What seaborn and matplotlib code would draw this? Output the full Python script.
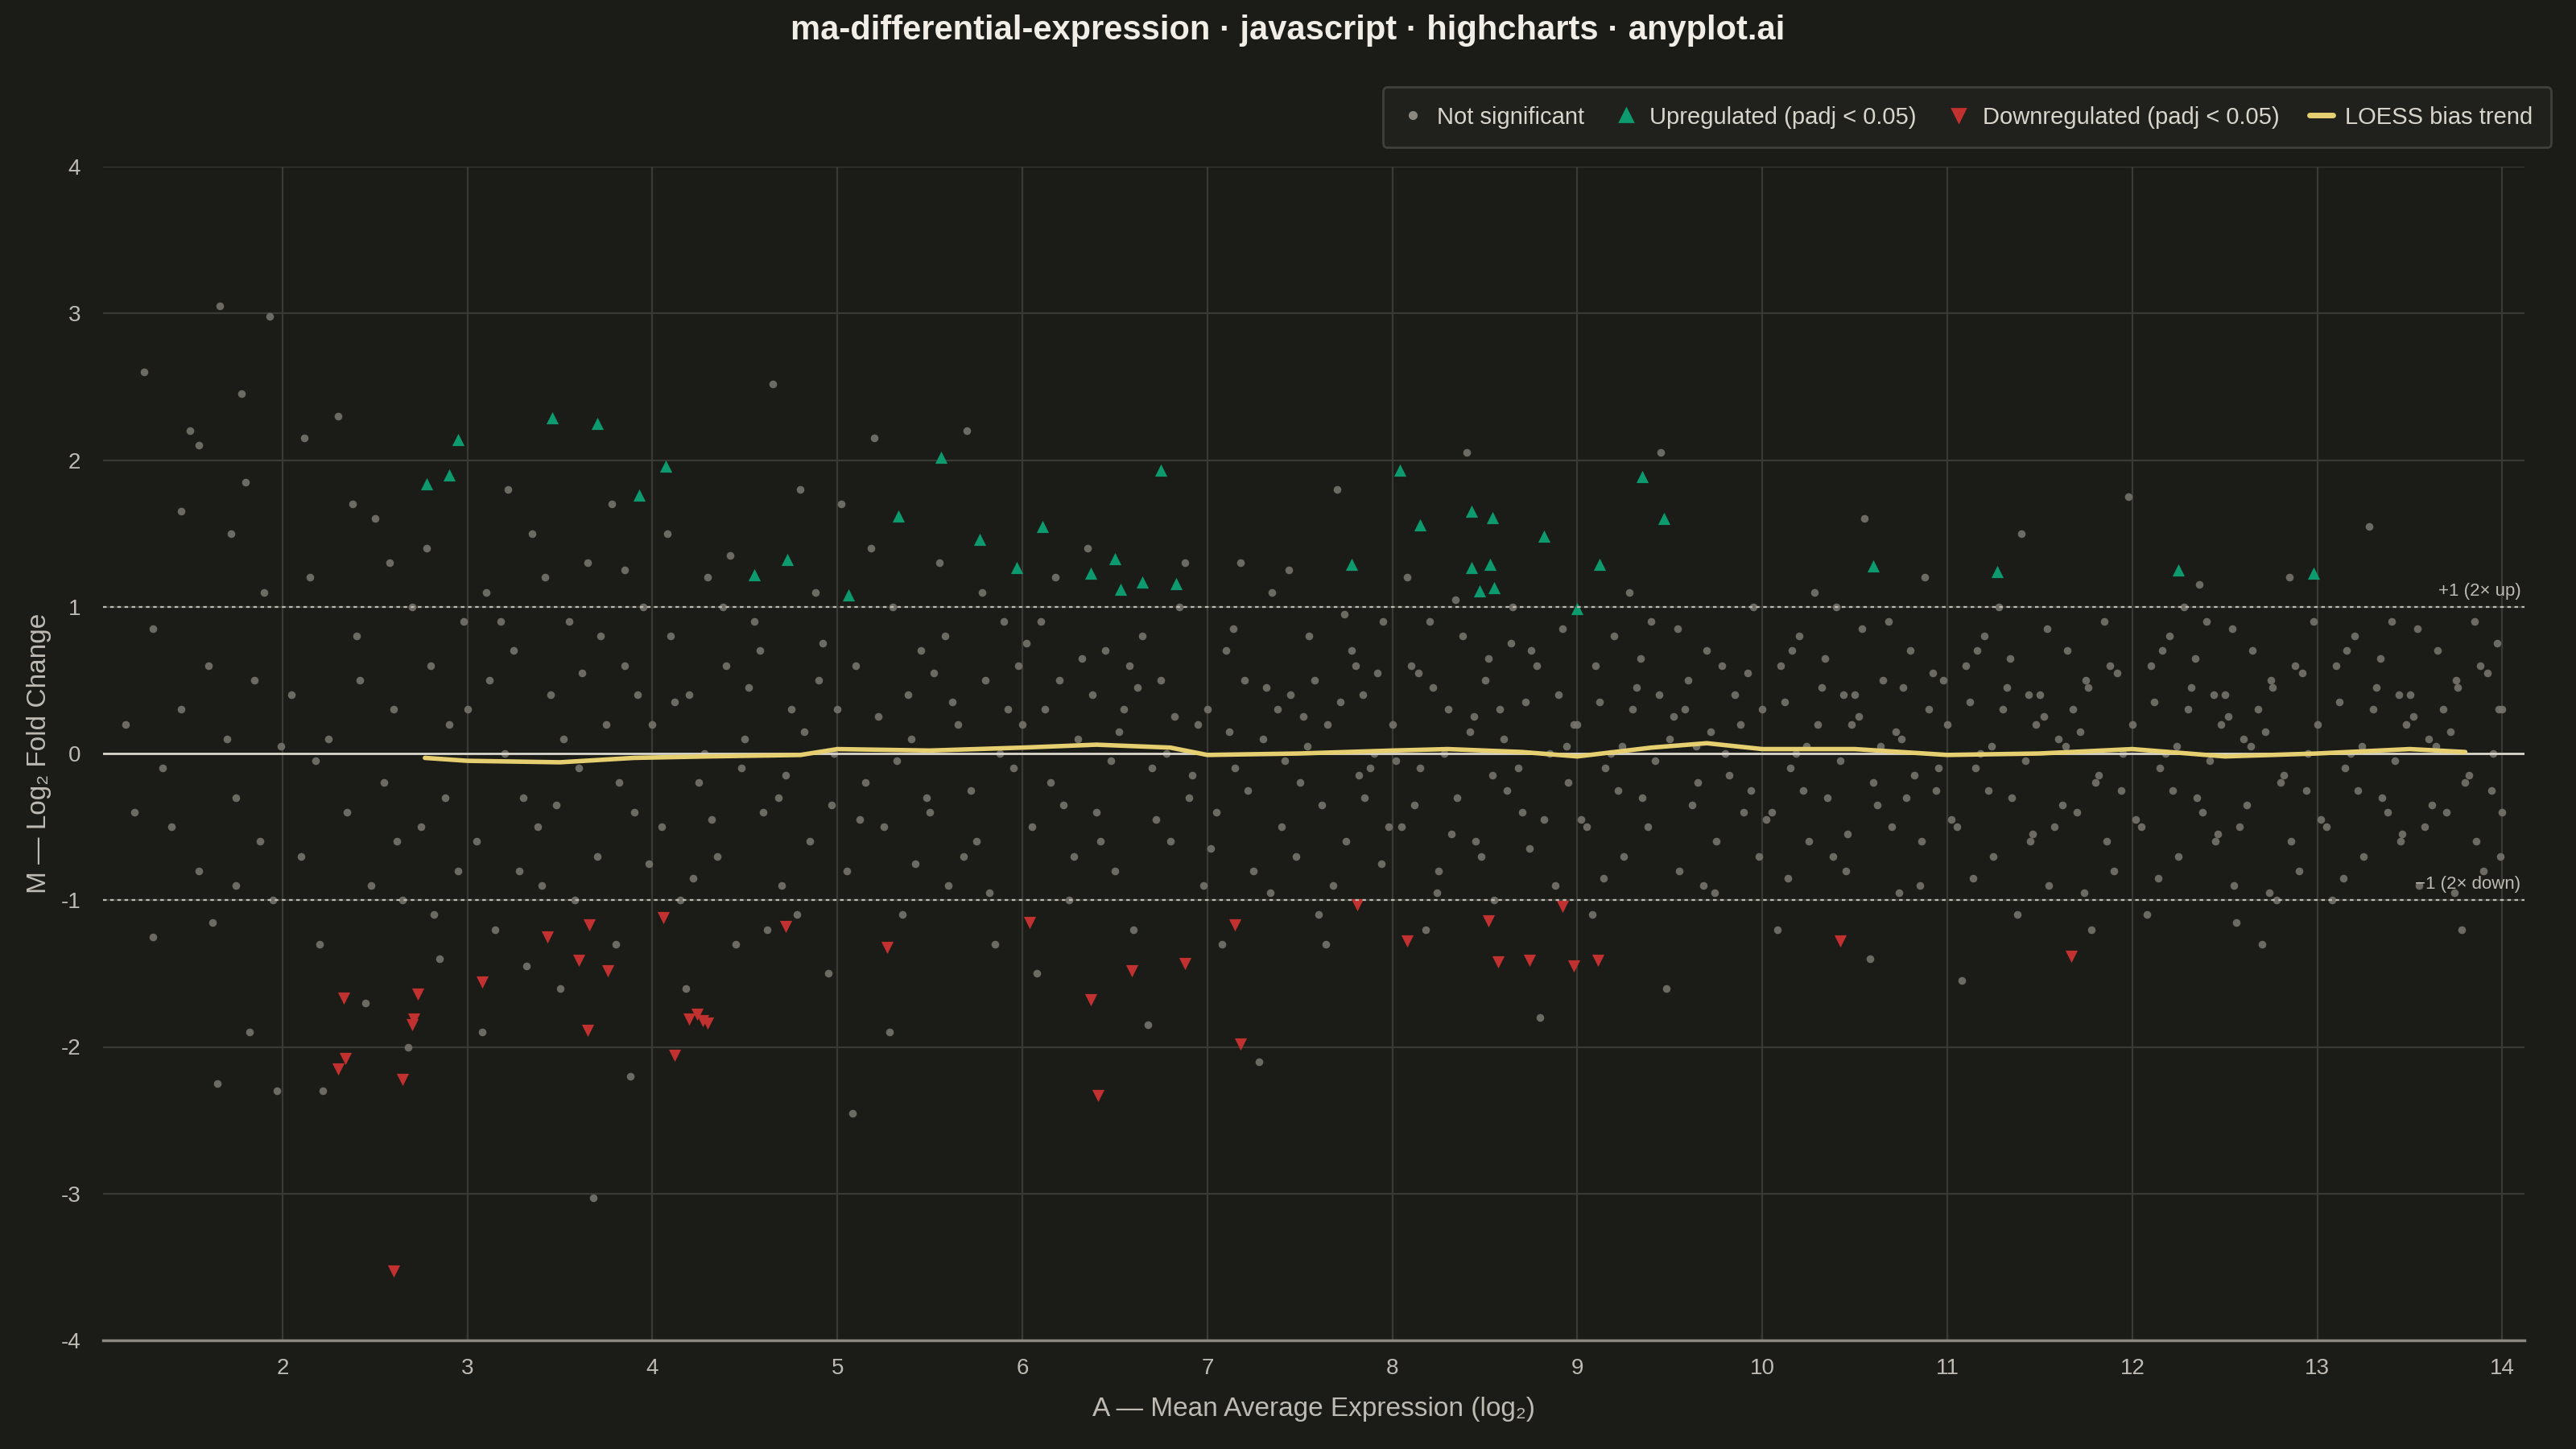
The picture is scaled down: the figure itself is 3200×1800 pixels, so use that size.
import numpy as np
import pandas as pd
import seaborn as sns
from matplotlib import pyplot as plt
from matplotlib.lines import Line2D

BG = '#1b1b17'
sns.set_theme(style='dark')
plt.rcParams['font.family'] = ['Liberation Sans', 'DejaVu Sans']
plt.rcParams['axes.unicode_minus'] = False

# non-significant genes (A, M), read off the reference by region
ns = [
    (1.15, 0.2), (1.2, -0.4), (1.3, 0.85), (1.35, -0.1), (1.4, -0.5), (1.45, 0.3), (1.5, 2.2), (1.55, -0.8),
    (1.6, 0.6), (1.62, -1.15), (1.66, 3.05), (1.7, 0.1), (1.72, 1.5), (1.75, -0.3), (1.78, 2.45), (1.82, -1.9),
    (1.85, 0.5), (1.88, -0.6), (1.9, 1.1), (1.93, 2.98), (1.97, -2.3), (1.99, 0.05), (1.3, -1.25), (1.45, 1.65),
    (1.55, 2.1), (1.65, -2.25), (1.8, 1.85), (1.95, -1.0), (1.25, 2.6), (1.75, -0.9),
    (2.05, 0.4), (2.1, -0.7), (2.15, 1.2), (2.2, -1.3), (2.25, 0.1), (2.3, 2.3), (2.35, -0.4), (2.4, 0.8),
    (2.45, -1.7), (2.5, 1.6), (2.55, -0.2), (2.6, 0.3), (2.65, -1.0), (2.7, 1.0), (2.75, -0.5), (2.8, 0.6),
    (2.85, -1.4), (2.9, 0.2), (2.95, -0.8), (2.12, 2.15), (2.22, -2.3), (2.38, 1.7), (2.48, -0.9), (2.58, 1.3),
    (2.68, -2.0), (2.78, 1.4), (2.88, -0.3), (2.98, 0.9), (2.18, -0.05), (2.42, 0.5), (2.62, -0.6), (2.82, -1.1),
    (3.0, 0.3), (3.05, -0.6), (3.1, 1.1), (3.15, -1.2), (3.2, 0.0), (3.25, 0.7), (3.3, -0.3), (3.35, 1.5),
    (3.4, -0.9), (3.45, 0.4), (3.5, -1.6), (3.55, 0.9), (3.6, -0.1), (3.65, 1.3), (3.7, -0.7), (3.75, 0.2),
    (3.8, -1.3), (3.85, 0.6), (3.9, -0.4), (3.95, 1.0), (3.08, -1.9), (3.22, 1.8), (3.38, -0.5), (3.52, 0.1),
    (3.68, -3.03), (3.78, 1.7), (3.88, -2.2), (3.12, 0.5), (3.28, -0.8), (3.42, 1.2), (3.58, -1.0), (3.72, 0.8),
    (3.82, -0.2), (3.92, 0.4), (3.18, 0.9), (3.48, -0.35), (3.62, 0.55), (3.98, -0.75), (3.32, -1.45), (3.85, 1.25),
    (4.0, 0.2), (4.05, -0.5), (4.1, 0.8), (4.15, -1.0), (4.2, 0.4), (4.25, -0.2), (4.3, 1.2), (4.35, -0.7),
    (4.4, 0.6), (4.45, -1.3), (4.5, 0.1), (4.55, 0.9), (4.6, -0.4), (4.65, 2.52), (4.7, -0.9), (4.75, 0.3),
    (4.8, 1.8), (4.85, -0.6), (4.9, 0.5), (4.95, -1.5), (4.08, 1.5), (4.18, -1.6), (4.28, 0.0), (4.38, 1.0),
    (4.48, -0.1), (4.58, 0.7), (4.68, -0.3), (4.78, -1.1), (4.88, 1.1), (4.98, 0.0), (4.12, 0.35), (4.32, -0.45),
    (4.52, 0.45), (4.72, -0.15), (4.92, 0.75), (4.22, -0.85), (4.42, 1.35), (4.62, -1.2), (4.82, 0.15), (4.97, -0.35),
    (5.0, 0.3), (5.05, -0.8), (5.1, 0.6), (5.15, -0.2), (5.2, 2.15), (5.25, -0.5), (5.3, 1.0), (5.35, -1.1),
    (5.4, 0.1), (5.45, 0.7), (5.5, -0.4), (5.55, 1.3), (5.6, -0.9), (5.65, 0.2), (5.7, 2.2), (5.75, -0.6),
    (5.8, 0.5), (5.85, -1.3), (5.9, 0.9), (5.95, -0.1), (5.08, -2.45), (5.18, 1.4), (5.28, -1.9), (5.38, 0.4),
    (5.48, -0.3), (5.58, 0.8), (5.68, -0.7), (5.78, 1.1), (5.88, 0.0), (5.98, 0.6), (5.12, -0.45), (5.22, 0.25),
    (5.32, -0.05), (5.42, -0.75), (5.52, 0.55), (5.62, 0.35), (5.72, -0.25), (5.82, -0.95), (5.92, 0.3), (5.02, 1.7),
    (6.0, 0.2), (6.05, -0.5), (6.1, 0.9), (6.15, -0.2), (6.2, 0.5), (6.25, -1.0), (6.3, 0.1), (6.35, 1.4),
    (6.4, -0.4), (6.45, 0.7), (6.5, -0.8), (6.55, 0.3), (6.6, -1.2), (6.65, 0.8), (6.7, -0.1), (6.75, 0.5),
    (6.8, -0.6), (6.85, 1.0), (6.9, -0.3), (6.95, 0.2), (6.08, -1.5), (6.18, 1.2), (6.28, -0.7), (6.38, 0.4),
    (6.48, -0.05), (6.58, 0.6), (6.68, -1.85), (6.78, 0.0), (6.88, 1.3), (6.98, -0.9), (6.12, 0.3), (6.22, -0.35),
    (6.32, 0.65), (6.42, -0.6), (6.52, 0.15), (6.62, 0.45), (6.72, -0.45), (6.82, 0.25), (6.92, -0.15), (6.02, 0.75),
    (7.0, 0.3), (7.05, -0.4), (7.1, 0.7), (7.15, -0.1), (7.2, 0.5), (7.25, -0.8), (7.3, 0.1), (7.35, 1.1),
    (7.4, -0.5), (7.45, 0.4), (7.5, -0.2), (7.55, 0.8), (7.6, -1.1), (7.65, 0.2), (7.7, 1.8), (7.75, -0.6),
    (7.8, 0.6), (7.85, -0.3), (7.9, 0.0), (7.95, 0.9), (7.08, -1.3), (7.18, 1.3), (7.28, -2.1), (7.38, 0.3),
    (7.48, -0.7), (7.58, 0.5), (7.68, -0.9), (7.78, 0.7), (7.88, -0.1), (7.98, -0.5), (7.12, 0.15), (7.22, -0.25),
    (7.32, 0.45), (7.42, -0.05), (7.52, 0.25), (7.62, -0.35), (7.72, 0.35), (7.82, -0.15), (7.92, 0.55), (7.02, -0.65),
    (7.14, 0.85), (7.34, -0.95), (7.54, 0.05), (7.74, 0.95), (7.94, -0.75), (7.44, 1.25), (7.64, -1.3), (7.84, 0.4),
    (8.0, 0.2), (8.05, -0.5), (8.1, 0.6), (8.15, -0.1), (8.2, 0.9), (8.25, -0.8), (8.3, 0.3), (8.35, -0.3),
    (8.4, 2.05), (8.45, -0.6), (8.5, 0.5), (8.55, -1.0), (8.6, 0.1), (8.65, 1.0), (8.7, -0.4), (8.75, 0.7),
    (8.8, -1.8), (8.85, 0.0), (8.9, 0.4), (8.95, -0.2), (8.08, 1.2), (8.18, -1.2), (8.28, 0.0), (8.38, 0.8),
    (8.48, -0.7), (8.58, 0.3), (8.68, -0.1), (8.78, 0.6), (8.88, -0.9), (8.98, 0.2), (8.12, -0.35), (8.22, 0.45),
    (8.32, -0.55), (8.42, 0.15), (8.52, 0.65), (8.62, -0.25), (8.72, 0.35), (8.82, -0.45), (8.92, 0.85), (8.02, -0.05),
    (8.14, 0.55), (8.34, 1.05), (8.54, -0.15), (8.74, -0.65), (8.94, 0.05), (8.24, -0.95), (8.44, 0.25), (8.64, 0.75),
    (9.0, 0.2), (9.05, -0.5), (9.1, 0.6), (9.15, -0.1), (9.2, 0.8), (9.25, -0.7), (9.3, 0.3), (9.35, -0.3),
    (9.4, 0.9), (9.45, 2.05), (9.5, 0.1), (9.55, -0.8), (9.6, 0.5), (9.65, -0.2), (9.7, 0.7), (9.75, -0.6),
    (9.8, 0.0), (9.85, 0.4), (9.9, -0.4), (9.95, 1.0), (9.08, -1.1), (9.18, 0.0), (9.28, 1.1), (9.38, -0.5),
    (9.48, -1.6), (9.58, 0.3), (9.68, -0.9), (9.78, 0.6), (9.88, 0.2), (9.98, -0.7), (9.12, 0.35), (9.22, -0.25),
    (9.32, 0.45), (9.42, -0.05), (9.52, 0.25), (9.62, -0.35), (9.72, 0.15), (9.82, -0.15), (9.92, 0.55), (9.02, -0.45),
    (9.14, -0.85), (9.34, 0.65), (9.54, 0.85), (9.74, -0.95), (9.94, -0.25), (9.24, 0.05), (9.44, 0.4), (9.64, 0.05),
    (10.0, 0.3), (10.05, -0.4), (10.1, 0.6), (10.15, -0.1), (10.2, 0.8), (10.25, -0.6), (10.3, 0.2), (10.35, -0.3),
    (10.4, 1.0), (10.45, -0.8), (10.5, 0.4), (10.55, 1.6), (10.6, -0.2), (10.65, 0.5), (10.7, -0.5), (10.75, 0.1),
    (10.8, 0.7), (10.85, -0.9), (10.9, 0.3), (10.95, -0.1), (10.08, -1.2), (10.18, 0.0), (10.28, 1.1), (10.38, -0.7),
    (10.48, 0.2), (10.58, -1.4), (10.68, 0.9), (10.78, -0.3), (10.88, 1.2), (10.98, 0.5), (10.12, 0.35), (10.22, -0.25),
    (10.32, 0.45), (10.42, -0.05), (10.52, 0.25), (10.62, -0.35), (10.72, 0.15), (10.82, -0.15), (10.92, 0.55), (10.02, -0.45),
    (10.14, -0.85), (10.34, 0.65), (10.54, 0.85), (10.74, -0.95), (10.94, -0.25), (10.24, 0.05), (10.44, 0.4), (10.64, 0.05),
    (10.16, 0.7), (10.46, -0.55), (10.76, 0.45), (10.86, -0.6),
    (11.0, 0.2), (11.05, -0.5), (11.1, 0.6), (11.15, -0.1), (11.2, 0.8), (11.25, -0.7), (11.3, 0.3), (11.35, -0.3),
    (11.4, 1.5), (11.45, -0.6), (11.5, 0.4), (11.55, -0.9), (11.6, 0.1), (11.65, 0.7), (11.7, -0.4), (11.75, 0.5),
    (11.8, -0.2), (11.85, 0.9), (11.9, -0.8), (11.95, 0.0), (11.08, -1.55), (11.18, 0.0), (11.28, 1.0), (11.38, -1.1),
    (11.48, 0.2), (11.58, -0.5), (11.68, 0.3), (11.78, -1.2), (11.88, 0.6), (11.98, 1.75), (11.12, 0.35), (11.22, -0.25),
    (11.32, 0.45), (11.42, -0.05), (11.52, 0.25), (11.62, -0.35), (11.72, 0.15), (11.82, -0.15), (11.92, 0.55), (11.02, -0.45),
    (11.14, -0.85), (11.34, 0.65), (11.54, 0.85), (11.74, -0.95), (11.94, -0.25), (11.24, 0.05), (11.44, 0.4), (11.64, 0.05),
    (11.16, 0.7), (11.46, -0.55), (11.76, 0.45), (11.86, -0.6),
    (12.0, 0.2), (12.05, -0.5), (12.1, 0.6), (12.15, -0.1), (12.2, 0.8), (12.25, -0.7), (12.3, 0.3), (12.35, -0.3),
    (12.4, 0.9), (12.45, -0.6), (12.5, 0.4), (12.55, -0.9), (12.6, 0.1), (12.65, 0.7), (12.7, -1.3), (12.75, 0.5),
    (12.8, -0.2), (12.85, 1.2), (12.9, -0.8), (12.95, 0.0), (12.08, -1.1), (12.18, 0.0), (12.28, 1.0), (12.38, -0.4),
    (12.48, 0.2), (12.58, -0.5), (12.68, 0.3), (12.78, -1.0), (12.88, 0.6), (12.98, 0.9), (12.12, 0.35), (12.22, -0.25),
    (12.32, 0.45), (12.42, -0.05), (12.52, 0.25), (12.62, -0.35), (12.72, 0.15), (12.82, -0.15), (12.92, 0.55), (12.02, -0.45),
    (12.14, -0.85), (12.34, 0.65), (12.54, 0.85), (12.74, -0.95), (12.94, -0.25), (12.24, 0.05), (12.44, 0.4), (12.64, 0.05),
    (12.16, 0.7), (12.46, -0.55), (12.76, 0.45), (12.86, -0.6), (12.36, 1.15), (12.56, -1.15),
    (13.0, 0.2), (13.05, -0.5), (13.1, 0.6), (13.15, -0.1), (13.2, 0.8), (13.25, -0.7), (13.3, 0.3), (13.35, -0.3),
    (13.4, 0.9), (13.45, -0.6), (13.5, 0.4), (13.55, -0.9), (13.6, 0.1), (13.65, 0.7), (13.7, -0.4), (13.75, 0.5),
    (13.8, -0.2), (13.85, 0.9), (13.9, -0.8), (13.95, 0.0), (13.08, -1.0), (13.18, 0.0), (13.28, 1.55), (13.38, -0.4),
    (13.48, 0.2), (13.58, -0.5), (13.68, 0.3), (13.78, -1.2), (13.88, 0.6), (13.98, 0.3), (13.12, 0.35), (13.22, -0.25),
    (13.32, 0.45), (13.42, -0.05), (13.52, 0.25), (13.62, -0.35), (13.72, 0.15), (13.82, -0.15), (13.92, 0.55), (13.02, -0.45),
    (13.14, -0.85), (13.34, 0.65), (13.54, 0.85), (13.74, -0.95), (13.94, -0.25), (13.24, 0.05), (13.44, 0.4), (13.64, 0.05),
    (13.16, 0.7), (13.46, -0.55), (13.76, 0.45), (13.86, -0.6), (14.0, 0.3), (14.0, -0.4), (13.97, 0.75), (13.99, -0.7),
]

up = [
    (2.78, 1.84), (2.9, 1.9), (2.95, 2.14), (3.46, 2.29), (3.7, 2.25), (3.93, 1.76), (4.07, 1.96), (4.55, 1.22),
    (4.73, 1.32), (5.06, 1.08), (5.33, 1.62), (5.56, 2.02), (5.77, 1.46), (5.97, 1.27), (6.11, 1.55), (6.37, 1.23),
    (6.5, 1.33), (6.53, 1.12), (6.65, 1.17), (6.75, 1.93), (6.83, 1.16), (7.78, 1.29), (8.04, 1.93), (8.15, 1.56),
    (8.43, 1.65), (8.43, 1.27), (8.47, 1.11), (8.53, 1.29), (8.54, 1.61), (8.55, 1.13), (8.82, 1.48), (9.0, 0.99),
    (9.12, 1.29), (9.35, 1.89), (9.47, 1.6), (10.6, 1.28), (11.27, 1.24), (12.25, 1.25), (12.98, 1.23),
]
down = [
    (2.3, -2.15), (2.33, -1.67), (2.34, -2.08), (2.65, -2.22), (2.6, -3.53), (2.7, -1.85), (2.71, -1.81), (2.73, -1.64),
    (3.08, -1.56), (3.43, -1.25), (3.6, -1.41), (3.65, -1.89), (3.66, -1.17), (3.76, -1.48), (4.06, -1.12), (4.12, -2.06),
    (4.2, -1.81), (4.24, -1.78), (4.27, -1.82), (4.3, -1.84), (4.72, -1.18), (5.27, -1.32), (6.04, -1.15), (6.37, -1.68),
    (6.41, -2.33), (6.59, -1.48), (6.88, -1.43), (7.15, -1.17), (7.18, -1.98), (7.81, -1.03), (8.08, -1.28), (8.52, -1.14),
    (8.57, -1.42), (8.74, -1.41), (8.92, -1.04), (8.98, -1.45), (9.11, -1.41), (10.42, -1.28), (11.67, -1.38),
]
loess = {
    'A': [2.77, 3.0, 3.5, 3.9, 4.3, 4.8, 5.0, 5.5, 6.0, 6.4, 6.8, 7.0, 7.5, 8.0, 8.3, 8.7, 9.0, 9.4, 9.7,
          10.0, 10.5, 11.0, 11.5, 12.0, 12.5, 13.0, 13.5, 13.8],
    'M': [-0.03, -0.05, -0.06, -0.03, -0.02, -0.01, 0.03, 0.02, 0.04, 0.06, 0.04, -0.01, 0.0, 0.02, 0.03,
          0.01, -0.02, 0.04, 0.07, 0.03, 0.03, -0.01, 0.0, 0.03, -0.02, 0.0, 0.03, 0.01],
}

df_ns = pd.DataFrame(ns, columns=['A', 'M'])
df_up = pd.DataFrame(up, columns=['A', 'M'])
df_down = pd.DataFrame(down, columns=['A', 'M'])

fig, ax = plt.subplots(figsize=(16, 9), dpi=200)
fig.patch.set_facecolor(BG)
ax.set_facecolor(BG)
fig.subplots_adjust(left=0.04, right=0.98, top=0.885, bottom=0.075)

sns.scatterplot(data=df_ns, x='A', y='M', ax=ax, color='#75736c', s=12, linewidth=0, alpha=0.9)
sns.scatterplot(data=df_up, x='A', y='M', ax=ax, color='#0d9a6e', marker='^', s=30, linewidth=0)
sns.scatterplot(data=df_down, x='A', y='M', ax=ax, color='#c0312f', marker='v', s=30, linewidth=0)
sns.lineplot(data=pd.DataFrame(loess), x='A', y='M', ax=ax, color='#e6cf70', linewidth=2)

ax.axhline(0, color='#d8d6cc', lw=1, zorder=1)
for y, lab in [(1, '+1 (2× up)'), (-1, '−1 (2× down)')]:
    ax.axhline(y, color='#bdbbb3', lw=0.8, ls=(0, (2, 2)), zorder=1)
    ax.text(14.1, y + 0.05, lab, color='#bdbbb3', fontsize=8, ha='right', va='bottom')

ax.set_xlim(1.03, 14.12)
ax.set_ylim(-4, 4)
ax.set_xticks(range(2, 15))
ax.set_yticks(range(-4, 5))
ax.grid(True, color='#3a3a35', lw=0.8)
ax.set_axisbelow(True)
for s in ['top', 'right', 'left']:
    ax.spines[s].set_visible(False)
ax.spines['bottom'].set_color('#8a8880')
ax.tick_params(colors='#bdbbb3', labelsize=10, length=0)
ax.tick_params(axis='x', pad=8)
ax.tick_params(axis='y', pad=10)
ax.set_xlabel('A — Mean Average Expression (log₂)', color='#bdbbb3', fontsize=12, labelpad=8)
ax.set_ylabel('M — Log₂ Fold Change', color='#bdbbb3', fontsize=12, labelpad=4)
fig.suptitle('ma-differential-expression · javascript · highcharts · anyplot.ai',
             color='#f0eee6', fontsize=15, fontweight='bold', y=0.99)

handles = [
    Line2D([], [], marker='o', color='#8a8880', ls='', markersize=3),
    Line2D([], [], marker='^', color='#0d9a6e', ls='', markersize=6),
    Line2D([], [], marker='v', color='#c0312f', ls='', markersize=6),
    Line2D([], [], color='#e6cf70', lw=2.5),
]
labels = ['Not significant', 'Upregulated (padj < 0.05)', 'Downregulated (padj < 0.05)', 'LOESS bias trend']
leg = fig.legend(handles, labels, loc='upper right', bbox_to_anchor=(0.995, 0.948), ncol=4,
                 frameon=True, fontsize=10.5, handlelength=1.0, columnspacing=1.3, handletextpad=0.5,
                 borderpad=0.8)
leg.get_frame().set_facecolor('#22221e')
leg.get_frame().set_edgecolor('#4a4a44')
for t in leg.get_texts():
    t.set_color('#d8d6cc')

fig.savefig('out.png', dpi=200, facecolor=BG)
